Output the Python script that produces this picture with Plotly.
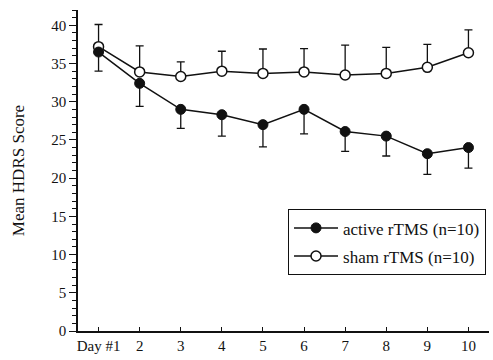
import plotly.graph_objects as go

days = [1, 2, 3, 4, 5, 6, 7, 8, 9, 10]
day_labels = ["Day #1", "2", "3", "4", "5", "6", "7", "8", "9", "10"]

active_mean = [36.5, 32.4, 29.0, 28.3, 27.0, 29.0, 26.1, 25.5, 23.2, 24.0]
active_err_minus = [2.5, 3.0, 2.5, 2.8, 2.9, 3.2, 2.6, 2.6, 2.7, 2.7]

sham_mean = [37.2, 33.9, 33.3, 34.0, 33.7, 33.9, 33.5, 33.7, 34.5, 36.4]
sham_err_plus = [2.9, 3.4, 1.9, 2.6, 3.2, 3.05, 3.9, 3.4, 3.0, 3.0]

zeros = [0] * len(days)
FONT = "Liberation Serif, Times New Roman, serif"
INK = "#111111"

fig = go.Figure()

fig.add_trace(go.Scatter(
    x=days, y=sham_mean, name="sham rTMS (n=10)", mode="lines+markers",
    line=dict(color=INK, width=1.5),
    marker=dict(symbol="circle", size=10, color="white", line=dict(color=INK, width=1.5)),
    error_y=dict(type="data", symmetric=False, array=sham_err_plus, arrayminus=zeros,
                 color=INK, thickness=1.3, width=4),
    legendrank=2, legendgroup="sham",
))
fig.add_trace(go.Scatter(
    x=days, y=active_mean, name="active rTMS (n=10)", mode="lines+markers",
    line=dict(color=INK, width=1.5),
    marker=dict(symbol="circle", size=10, color=INK, line=dict(color=INK, width=1)),
    error_y=dict(type="data", symmetric=False, array=zeros, arrayminus=active_err_minus,
                 color=INK, thickness=1.3, width=4),
    legendrank=1, legendgroup="active",
))

fig.update_layout(
    width=493, height=360,
    margin=dict(l=78, r=4, t=10, b=29),
    paper_bgcolor="white", plot_bgcolor="white",
    font=dict(family=FONT, size=15, color=INK),
    showlegend=True,
    legend=dict(
        x=0.511, y=0.379, xanchor="left", yanchor="top",
        bgcolor="white", bordercolor=INK, borderwidth=1,
        font=dict(family=FONT, size=17, color=INK),
        itemwidth=44, tracegroupgap=3,
    ),
    xaxis=dict(
        range=[0.5, 10.5], tickmode="array", tickvals=days, ticktext=day_labels,
        showgrid=False, zeroline=False, showline=True, linecolor=INK, linewidth=1.5,
        ticks="inside", ticklen=4, tickcolor=INK, tickwidth=1.2,
        tickfont=dict(family=FONT, size=15, color=INK), automargin=False,
    ),
    yaxis=dict(
        range=[0, 42], tickmode="array", tickvals=[0, 5, 10, 15, 20, 25, 30, 35, 40],
        showgrid=False, zeroline=False, showline=True, linecolor=INK, linewidth=1.5,
        ticks="outside", ticklen=7, tickcolor=INK, tickwidth=1.2,
        minor=dict(dtick=1, tick0=0, ticks="outside", ticklen=4, tickcolor=INK, tickwidth=1),
        tickfont=dict(family=FONT, size=15, color=INK), automargin=False,
        title=dict(text="Mean HDRS Score", font=dict(family=FONT, size=17, color=INK), standoff=22),
    ),
)

fig.write_html("out.html", config={"displayModeBar": False},
               post_script="document.body.style.margin='0px';")
